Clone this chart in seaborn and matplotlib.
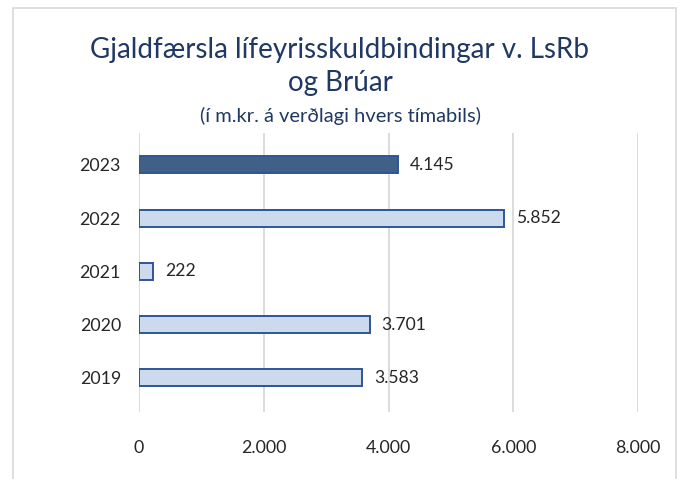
import matplotlib
matplotlib.use("Agg")
import matplotlib.pyplot as plt
import seaborn as sns
import pandas as pd
from matplotlib.patches import Rectangle

# Gögn
ar = ["2023", "2022", "2021", "2020", "2019"]
gjaldfaersla = [4145, 5852, 222, 3701, 3583]
x_ticks = [0, 2000, 4000, 6000, 8000]

df = pd.DataFrame({"Ár": ar, "Gjaldfærsla": gjaldfaersla})

sns.set_theme(style="white")
plt.rcParams["font.family"] = ["Lato", "DejaVu Sans"]

fig = plt.figure(figsize=(6.8, 4.79), dpi=100)
ax = fig.add_axes([139 / 680, 1 - 412 / 479, (638 - 139) / 680, (412 - 133) / 479])

litir = ["#345F93"] + ["#C5D9F1"] * 4
sns.barplot(data=df, x="Gjaldfærsla", y="Ár", hue="Ár", palette=litir, legend=False,
            width=0.32, edgecolor="#2F5597", linewidth=1.4, ax=ax, zorder=3)

ax.set_xlim(0, 8000)
ax.set_ylim(4.64, -0.6)
ax.set_xticks(x_ticks)
ax.set_xticklabels([f"{v:,}".replace(",", ".") for v in x_ticks])
ax.grid(axis="x", color="#D9D9D9", linewidth=1.3, zorder=0)
ax.grid(axis="y", visible=False)
for s in ax.spines.values():
    s.set_visible(False)
ax.tick_params(axis="both", length=0, labelsize=12.8, colors="#262626")
ax.tick_params(axis="x", pad=20)
ax.tick_params(axis="y", pad=13)
ax.set_xlabel("")
ax.set_ylabel("")

for i, v in enumerate(gjaldfaersla):
    ax.text(v + 190, i, f"{v:,}".replace(",", "."), va="center", ha="left",
            fontsize=12.6, color="#262626")

# Titill
fig.text(0.5, 1 - 50 / 479, "Gjaldfærsla lífeyrisskuldbindingar v. LsRb",
         ha="center", va="center", fontsize=20, color="#1F3864")
fig.text(0.5, 1 - 83 / 479, "og Brúar", ha="center", va="center",
         fontsize=20, color="#1F3864")
fig.text(0.5, 1 - 116 / 479, "(í m.kr. á verðlagi hvers tímabils)",
         ha="center", va="center", fontsize=14.5, color="#1F3864")

# Rammi
fig.patches.append(Rectangle((13 / 680, -0.05), (676 - 13) / 680, 1 - 8 / 479 + 0.05,
                             transform=fig.transFigure, fill=False,
                             edgecolor="#D9D9D9", linewidth=1.2))

fig.savefig("out.png", dpi=100)
